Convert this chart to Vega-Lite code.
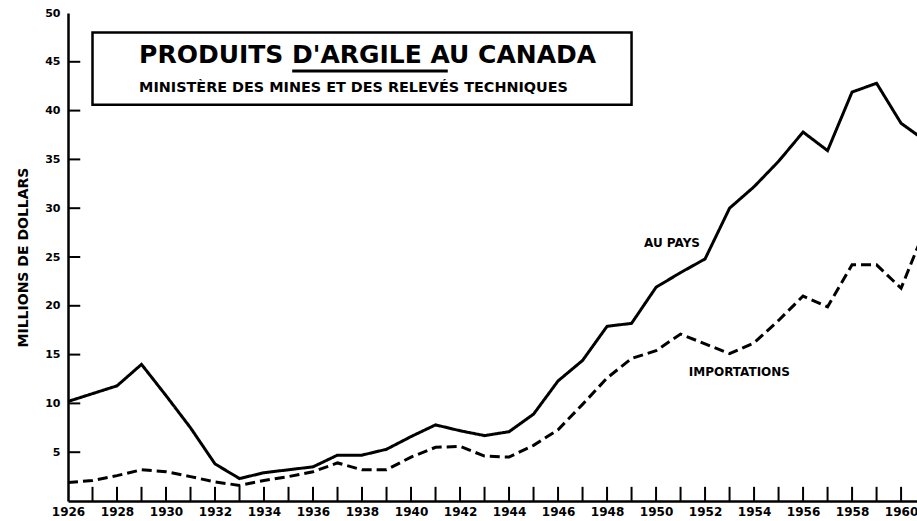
{
  "$schema": "https://vega.github.io/schema/vega-lite/v6.json",
  "width": 849,
  "height": 488,
  "autosize": "none",
  "padding": {"left": 68, "top": 13, "right": 0, "bottom": 20},
  "background": "white",
  "config": {
    "view": {"stroke": null},
    "font": "DejaVu Sans",
    "axis": {
      "domainColor": "black", "domainWidth": 2.5, "tickColor": "black", "tickWidth": 2,
      "labelColor": "black", "labelFont": "DejaVu Sans", "labelFontWeight": "bold",
      "grid": false, "labelFlush": false, "labelOverlap": false,
      "titleColor": "black", "titleFont": "DejaVu Sans", "titleFontWeight": "bold"
    }
  },
  "datasets": {
    "series": [
      {"year": 1926, "series": "AU PAYS", "value": 10.2},
      {"year": 1927, "series": "AU PAYS", "value": 11.0},
      {"year": 1928, "series": "AU PAYS", "value": 11.8},
      {"year": 1929, "series": "AU PAYS", "value": 14.0},
      {"year": 1930, "series": "AU PAYS", "value": 10.8},
      {"year": 1931, "series": "AU PAYS", "value": 7.5},
      {"year": 1932, "series": "AU PAYS", "value": 3.8},
      {"year": 1933, "series": "AU PAYS", "value": 2.3},
      {"year": 1934, "series": "AU PAYS", "value": 2.9},
      {"year": 1935, "series": "AU PAYS", "value": 3.2},
      {"year": 1936, "series": "AU PAYS", "value": 3.5},
      {"year": 1937, "series": "AU PAYS", "value": 4.7},
      {"year": 1938, "series": "AU PAYS", "value": 4.7},
      {"year": 1939, "series": "AU PAYS", "value": 5.3},
      {"year": 1940, "series": "AU PAYS", "value": 6.6},
      {"year": 1941, "series": "AU PAYS", "value": 7.8},
      {"year": 1942, "series": "AU PAYS", "value": 7.2},
      {"year": 1943, "series": "AU PAYS", "value": 6.7},
      {"year": 1944, "series": "AU PAYS", "value": 7.1},
      {"year": 1945, "series": "AU PAYS", "value": 8.9},
      {"year": 1946, "series": "AU PAYS", "value": 12.3},
      {"year": 1947, "series": "AU PAYS", "value": 14.4},
      {"year": 1948, "series": "AU PAYS", "value": 17.9},
      {"year": 1949, "series": "AU PAYS", "value": 18.2},
      {"year": 1950, "series": "AU PAYS", "value": 21.9},
      {"year": 1951, "series": "AU PAYS", "value": 23.4},
      {"year": 1952, "series": "AU PAYS", "value": 24.8},
      {"year": 1953, "series": "AU PAYS", "value": 30.0},
      {"year": 1954, "series": "AU PAYS", "value": 32.2},
      {"year": 1955, "series": "AU PAYS", "value": 34.8},
      {"year": 1956, "series": "AU PAYS", "value": 37.8},
      {"year": 1957, "series": "AU PAYS", "value": 35.9},
      {"year": 1958, "series": "AU PAYS", "value": 41.9},
      {"year": 1959, "series": "AU PAYS", "value": 42.8},
      {"year": 1960, "series": "AU PAYS", "value": 38.7},
      {"year": 1961, "series": "AU PAYS", "value": 36.9},
      {"year": 1926, "series": "IMPORTATIONS", "value": 1.9},
      {"year": 1927, "series": "IMPORTATIONS", "value": 2.1},
      {"year": 1928, "series": "IMPORTATIONS", "value": 2.6},
      {"year": 1929, "series": "IMPORTATIONS", "value": 3.2},
      {"year": 1930, "series": "IMPORTATIONS", "value": 3.0},
      {"year": 1931, "series": "IMPORTATIONS", "value": 2.5},
      {"year": 1932, "series": "IMPORTATIONS", "value": 1.95},
      {"year": 1933, "series": "IMPORTATIONS", "value": 1.6},
      {"year": 1934, "series": "IMPORTATIONS", "value": 2.1},
      {"year": 1935, "series": "IMPORTATIONS", "value": 2.5},
      {"year": 1936, "series": "IMPORTATIONS", "value": 3.0},
      {"year": 1937, "series": "IMPORTATIONS", "value": 3.9},
      {"year": 1938, "series": "IMPORTATIONS", "value": 3.2},
      {"year": 1939, "series": "IMPORTATIONS", "value": 3.2},
      {"year": 1940, "series": "IMPORTATIONS", "value": 4.5},
      {"year": 1941, "series": "IMPORTATIONS", "value": 5.5},
      {"year": 1942, "series": "IMPORTATIONS", "value": 5.6},
      {"year": 1943, "series": "IMPORTATIONS", "value": 4.6},
      {"year": 1944, "series": "IMPORTATIONS", "value": 4.5},
      {"year": 1945, "series": "IMPORTATIONS", "value": 5.7},
      {"year": 1946, "series": "IMPORTATIONS", "value": 7.3},
      {"year": 1947, "series": "IMPORTATIONS", "value": 9.9},
      {"year": 1948, "series": "IMPORTATIONS", "value": 12.6},
      {"year": 1949, "series": "IMPORTATIONS", "value": 14.6},
      {"year": 1950, "series": "IMPORTATIONS", "value": 15.4},
      {"year": 1951, "series": "IMPORTATIONS", "value": 17.1},
      {"year": 1952, "series": "IMPORTATIONS", "value": 16.1},
      {"year": 1953, "series": "IMPORTATIONS", "value": 15.1},
      {"year": 1954, "series": "IMPORTATIONS", "value": 16.2},
      {"year": 1955, "series": "IMPORTATIONS", "value": 18.5},
      {"year": 1956, "series": "IMPORTATIONS", "value": 21.0},
      {"year": 1957, "series": "IMPORTATIONS", "value": 19.9},
      {"year": 1958, "series": "IMPORTATIONS", "value": 24.2},
      {"year": 1959, "series": "IMPORTATIONS", "value": 24.2},
      {"year": 1960, "series": "IMPORTATIONS", "value": 21.8},
      {"year": 1961, "series": "IMPORTATIONS", "value": 28.0}
    ],
    "xticks": [
      {"year": 1927}, {"year": 1928}, {"year": 1929}, {"year": 1930}, {"year": 1931}, {"year": 1932}, {"year": 1933}, {"year": 1934}, {"year": 1935}, {"year": 1936}, {"year": 1937}, {"year": 1938}, {"year": 1939}, {"year": 1940}, {"year": 1941}, {"year": 1942}, {"year": 1943}, {"year": 1944}, {"year": 1945}, {"year": 1946}, {"year": 1947}, {"year": 1948}, {"year": 1949}, {"year": 1950}, {"year": 1951}, {"year": 1952}, {"year": 1953}, {"year": 1954}, {"year": 1955}, {"year": 1956}, {"year": 1957}, {"year": 1958}, {"year": 1959}, {"year": 1960}
    ],
    "yticks": [
      {"value": 5}, {"value": 10}, {"value": 15}, {"value": 20}, {"value": 25}, {"value": 30}, {"value": 35}, {"value": 40}, {"value": 45}
    ],
    "box": [{"x1": 1927, "x2": 1949, "y1": 48, "y2": 40.6}],
    "title": [{"x": 1928.9, "y": 44.9, "text": "PRODUITS D'ARGILE AU CANADA"}],
    "subtitle": [{"x": 1928.9, "y": 41.9, "text": "MINISTÈRE DES MINES ET DES RELEVÉS TECHNIQUES"}],
    "underline": [{"x1": 1935.15, "x2": 1941.5, "y": 44.05}],
    "labels": [
      {"x": 1950.65, "y": 26.4, "text": "AU PAYS"},
      {"x": 1953.4, "y": 13.2, "text": "IMPORTATIONS"}
    ]
  },
  "layer": [
    {
      "data": {"name": "series"},
      "mark": {"type": "line", "strokeWidth": 3, "color": "black", "clip": true, "strokeCap": "butt", "strokeJoin": "miter"},
      "encoding": {
        "x": {
          "field": "year", "type": "quantitative",
          "scale": {"domain": [1926, 1960.65], "nice": false, "zero": false},
          "axis": {
            "title": null, "ticks": false,
            "values": [1926,1928,1930,1932,1934,1936,1938,1940,1942,1944,1946,1948,1950,1952,1954,1956,1958,1960],
            "format": "d", "labelPadding": 5, "labelFontSize": 12, "labelBaseline": "top"
          }
        },
        "y": {
          "field": "value", "type": "quantitative",
          "scale": {"domain": [0, 50], "nice": false},
          "axis": {
            "title": "MILLIONS DE DOLLARS", "titleFontSize": 14, "titlePadding": 14,
            "values": [5,10,15,20,25,30,35,40,45,50], "ticks": false,
            "labelPadding": 8, "labelFontSize": 11
          }
        },
        "strokeDash": {
          "field": "series", "type": "nominal",
          "scale": {"domain": ["AU PAYS", "IMPORTATIONS"], "range": [[1, 0], [10, 5]]},
          "legend": null
        }
      }
    },
    {
      "data": {"name": "xticks"},
      "mark": {"type": "rule", "strokeWidth": 2, "color": "black"},
      "encoding": {
        "x": {"field": "year", "type": "quantitative"},
        "y": {"datum": 0, "type": "quantitative"},
        "y2": {"datum": 1.45}
      }
    },
    {
      "data": {"name": "yticks"},
      "mark": {"type": "rule", "strokeWidth": 2, "color": "black"},
      "encoding": {
        "y": {"field": "value", "type": "quantitative"},
        "x": {"datum": 1926, "type": "quantitative"},
        "x2": {"datum": 1926.5}
      }
    },
    {
      "mark": {"type": "rule", "strokeWidth": 2.5, "color": "black"},
      "encoding": {"y": {"datum": 50, "type": "quantitative"}}
    },
    {
      "data": {"name": "box"},
      "mark": {"type": "rect", "fill": "white", "stroke": "black", "strokeWidth": 2.5},
      "encoding": {
        "x": {"field": "x1", "type": "quantitative"},
        "x2": {"field": "x2"},
        "y": {"field": "y1", "type": "quantitative"},
        "y2": {"field": "y2"}
      }
    },
    {
      "data": {"name": "title"},
      "mark": {"type": "text", "align": "left", "baseline": "alphabetic", "fontSize": 25, "fontWeight": "bold", "font": "DejaVu Sans", "color": "black"},
      "encoding": {
        "x": {"field": "x", "type": "quantitative"},
        "y": {"field": "y", "type": "quantitative"},
        "text": {"field": "text"}
      }
    },
    {
      "data": {"name": "subtitle"},
      "mark": {"type": "text", "align": "left", "baseline": "alphabetic", "fontSize": 14.4, "fontWeight": "bold", "font": "DejaVu Sans", "color": "black"},
      "encoding": {
        "x": {"field": "x", "type": "quantitative"},
        "y": {"field": "y", "type": "quantitative"},
        "text": {"field": "text"}
      }
    },
    {
      "data": {"name": "underline"},
      "mark": {"type": "rule", "strokeWidth": 3, "color": "black"},
      "encoding": {
        "x": {"field": "x1", "type": "quantitative"},
        "x2": {"field": "x2"},
        "y": {"field": "y", "type": "quantitative"}
      }
    },
    {
      "data": {"name": "labels"},
      "mark": {"type": "text", "align": "center", "baseline": "middle", "fontSize": 12, "fontWeight": "bold", "font": "DejaVu Sans", "color": "black"},
      "encoding": {
        "x": {"field": "x", "type": "quantitative"},
        "y": {"field": "y", "type": "quantitative"},
        "text": {"field": "text"}
      }
    }
  ]
}
